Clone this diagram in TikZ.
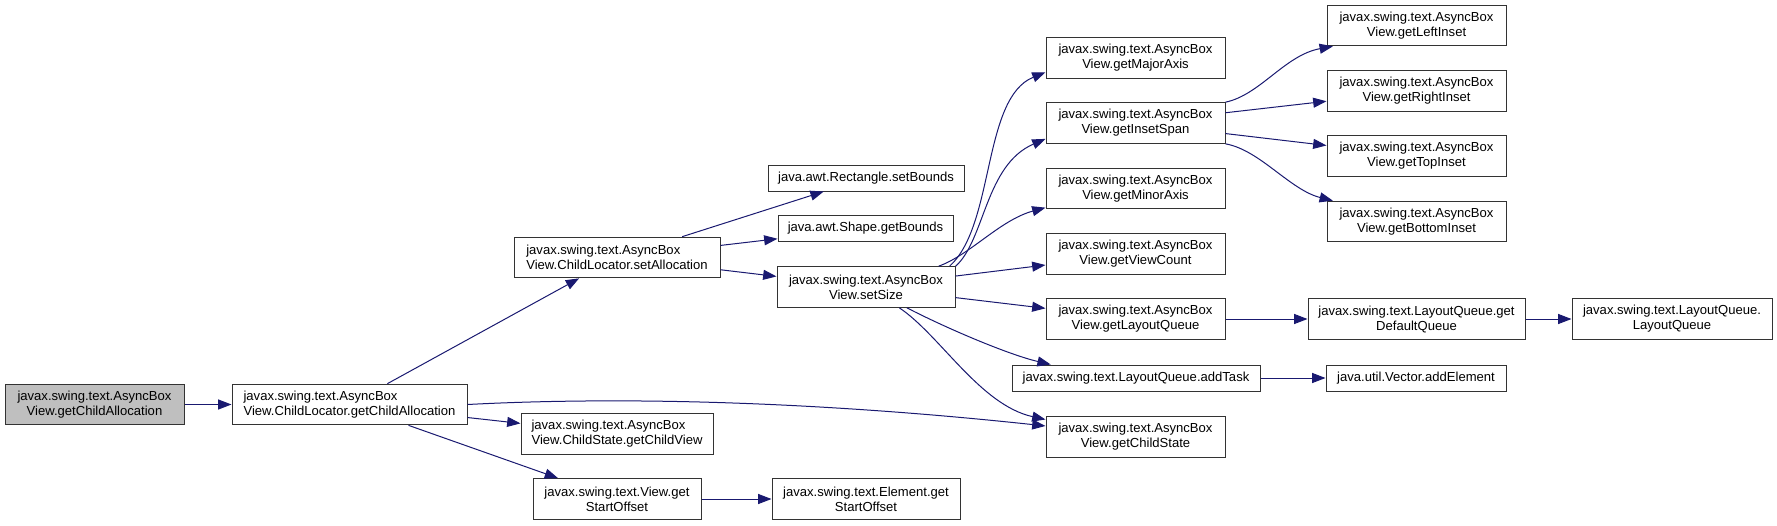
\documentclass[tikz,border=0pt]{standalone}
\usepackage{fontspec}
\setmainfont{Liberation Sans}
\usepackage{tikz}
\usetikzlibrary{arrows.meta}
\usepackage{xcolor}
\definecolor{edgeblue}{RGB}{25,25,112}

\begin{document}
\begin{tikzpicture}[x=0.75pt,y=-0.75pt,>={Triangle[length=10pt,width=7.5pt]},
  font=\fontsize{9.8}{11.25}\selectfont,
  fn/.style={draw=black!80,line width=0.75pt,inner sep=0pt,align=center,minimum height=30.5pt},
  fnone/.style={fn,minimum height=19.5pt},
  call/.style={->,draw=edgeblue,line width=0.75pt}]
\useasboundingbox (0,0) rectangle (1777,525);
\node[fn,fill=black!25,minimum width=134.25pt] (A) at (94.5,404.5) {javax.swing.text.AsyncBox\\View.getChildAllocation};
\node[fn,align=left,minimum width=176.25pt] (B) at (349.5,404.5) {javax.swing.text.AsyncBox\\View.ChildLocator.getChildAllocation};
\node[fn,align=left,minimum width=154.5pt] (setAlloc) at (617,257.5) {javax.swing.text.AsyncBox\\View.ChildLocator.setAllocation};
\node[fn,align=left,minimum width=144pt] (getChildView) at (617,434) {javax.swing.text.AsyncBox\\View.ChildState.getChildView};
\node[fn,minimum width=126pt] (viewStartOffset) at (617,499) {javax.swing.text.View.get\\StartOffset};
\node[fnone,minimum width=147pt] (rectSetBounds) at (866,178) {java.awt.Rectangle.setBounds};
\node[fnone,minimum width=131.25pt] (shapeGetBounds) at (865.5,228.5) {java.awt.Shape.getBounds};
\node[fn,minimum width=133.5pt] (setSize) at (866,287) {javax.swing.text.AsyncBox\\View.setSize};
\node[fn,minimum width=141pt] (elemStartOffset) at (866,499) {javax.swing.text.Element.get\\StartOffset};
\node[fn,minimum width=134.25pt] (majorAxis) at (1135.5,58) {javax.swing.text.AsyncBox\\View.getMajorAxis};
\node[fn,minimum width=134.25pt] (insetSpan) at (1135.5,123) {javax.swing.text.AsyncBox\\View.getInsetSpan};
\node[fn,minimum width=134.25pt] (minorAxis) at (1135.5,188.5) {javax.swing.text.AsyncBox\\View.getMinorAxis};
\node[fn,minimum width=134.25pt] (viewCount) at (1135.5,254) {javax.swing.text.AsyncBox\\View.getViewCount};
\node[fn,minimum width=134.25pt] (layoutQueue) at (1135.5,319) {javax.swing.text.AsyncBox\\View.getLayoutQueue};
\node[fnone,minimum width=186pt] (addTask) at (1136,378) {javax.swing.text.LayoutQueue.addTask};
\node[fn,minimum width=134.25pt] (childState) at (1135.5,437) {javax.swing.text.AsyncBox\\View.getChildState};
\node[fn,minimum width=134.25pt] (leftInset) at (1416.5,25.5) {javax.swing.text.AsyncBox\\View.getLeftInset};
\node[fn,minimum width=134.25pt] (rightInset) at (1416.5,91) {javax.swing.text.AsyncBox\\View.getRightInset};
\node[fn,minimum width=134.25pt] (topInset) at (1416.5,156) {javax.swing.text.AsyncBox\\View.getTopInset};
\node[fn,minimum width=134.25pt] (bottomInset) at (1416.5,221.5) {javax.swing.text.AsyncBox\\View.getBottomInset};
\node[fn,minimum width=162.75pt] (defaultQueue) at (1416.5,319) {javax.swing.text.LayoutQueue.get\\DefaultQueue};
\node[fnone,minimum width=135pt] (addElement) at (1416,378) {java.util.Vector.addElement};
\node[fn,minimum width=150pt] (queueCtor) at (1672,319) {javax.swing.text.LayoutQueue.\\LayoutQueue};
\draw[call] (A) -- (B);
\draw[call] (B) -- (setAlloc);
\draw[call] (B.east) .. controls (650,395) and (850,405) .. (childState.173);
\draw[call] (B) -- (getChildView);
\draw[call] (B) -- (viewStartOffset);
\draw[call] (viewStartOffset) -- (elemStartOffset);
\draw[call] (setAlloc) -- (rectSetBounds);
\draw[call] (setAlloc) -- (shapeGetBounds);
\draw[call] (setAlloc) -- (setSize);
\draw[call] (setSize.14) .. controls (995,225) and (982,98) .. (majorAxis.189);
\draw[call] (setSize.13) .. controls (985,240) and (985,165) .. (insetSpan.190);
\draw[call] (setSize.16) .. controls (970,255) and (1000,220) .. (minorAxis.192);
\draw[call] (setSize) -- (viewCount);
\draw[call] (setSize) -- (layoutQueue);
\draw[call] (setSize.-27) .. controls (950,330) and (1010,355) .. (addTask.171);
\draw[call] (setSize.-32) .. controls (940,335) and (980,405) .. (childState.169);
\draw[call] (insetSpan.north east) .. controls (1260,95) and (1285,55) .. (leftInset.194);
\draw[call] (insetSpan) -- (rightInset);
\draw[call] (insetSpan) -- (topInset);
\draw[call] (insetSpan.south east) .. controls (1260,150) and (1290,190) .. (bottomInset.166);
\draw[call] (layoutQueue) -- (defaultQueue);
\draw[call] (defaultQueue) -- (queueCtor);
\draw[call] (addTask) -- (addElement);
\end{tikzpicture}
\end{document}
